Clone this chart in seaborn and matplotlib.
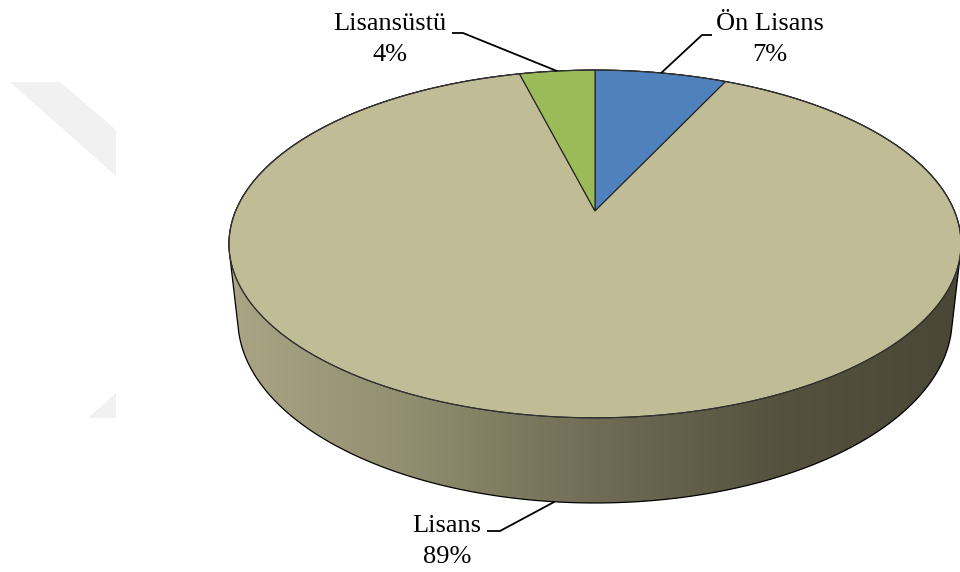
import numpy as np
import matplotlib
matplotlib.use("Agg")
import matplotlib.pyplot as plt
import seaborn as sns
from matplotlib.patches import Polygon
from matplotlib.colors import LinearSegmentedColormap

# ---- data -----------------------------------------------------------
categories = ["Ön Lisans", "Lisans", "Lisansüstü"]
percentages = [7, 89, 4]
slice_colors = ["#4F81BD", "#C0BC96", "#9BBB59"]

# label placement (name baseline position, elbow of leader, leader end)
label_pos = {"Ön Lisans": (770, 30), "Lisans": (447, 532), "Lisansüstü": (390, 30)}
leader_elbow = {"Ön Lisans": [(702, 35), (712, 35)],
                "Lisans": [(500, 531), (487, 531)],
                "Lisansüstü": [(463, 33), (452, 33)]}

# ---- style ----------------------------------------------------------
sns.set_theme(style="white")
plt.rcParams["font.family"] = ["Liberation Serif", "DejaVu Serif"]
palette = sns.color_palette(slice_colors)

fig = plt.figure(figsize=(9.6, 5.72), dpi=100)
ax = fig.add_axes([0, 0, 1, 1])
ax.set_xlim(0, 960)
ax.set_ylim(572, 0)
ax.set_aspect("auto")
ax.axis("off")

# faint background watermark shapes
for poly in ([(10, 82), (60, 82), (116, 130), (116, 176)],
             [(88, 418), (116, 393), (116, 418)]):
    ax.add_patch(Polygon(poly, closed=True, facecolor="#F1F1F1", edgecolor="none", zorder=0))

# ---- perspective camera for a tilted disc ---------------------------
CX, CY = 595, 211
PHI = np.deg2rad(27.8)
DIST = 4.664
FOCAL = 1676
THICK = 0.239


def project(u, v, h=0.0):
    s, c = np.sin(PHI), np.cos(PHI)
    yc = v * s + h * c
    zc = DIST + v * c - h * s
    return CX + FOCAL * u / zc, CY - FOCAL * yc / zc


def rim(a0, a1, h=0.0, n=200):
    """Points on the rim between two angles (radians, clockwise from far side)."""
    a = np.linspace(a0, a1, n)
    return project(np.sin(a), np.cos(a), h)


def convex_hull(points):
    pts = sorted(set(points))
    def cross(o, a, b):
        return (a[0] - o[0]) * (b[1] - o[1]) - (a[1] - o[1]) * (b[0] - o[0])
    lower, upper = [], []
    for p in pts:
        while len(lower) >= 2 and cross(lower[-2], lower[-1], p) <= 0:
            lower.pop()
        lower.append(p)
    for p in reversed(pts):
        while len(upper) >= 2 and cross(upper[-2], upper[-1], p) <= 0:
            upper.pop()
        upper.append(p)
    return lower[:-1] + upper[:-1]


# ---- side wall: hull of top and bottom rims, with a shaded gradient --
tx, ty = rim(0, 2 * np.pi, 0.0, 720)
bx, by = rim(0, 2 * np.pi, -THICK, 720)
hull = convex_hull(list(zip(np.round(tx, 3), np.round(ty, 3))) +
                   list(zip(np.round(bx, 3), np.round(by, 3))))
side_patch = Polygon(hull, closed=True, facecolor="none", edgecolor="black",
                     linewidth=0.9, zorder=3)
ax.add_patch(side_patch)

shade = LinearSegmentedColormap.from_list(
    "side", [(0.0, "#AAA585"), (0.25, "#918D6F"), (0.5, "#706C56"),
             (0.75, "#55523F"), (1.0, "#4A4737")])
xmin, xmax = min(p[0] for p in hull), max(p[0] for p in hull)
ymin, ymax = min(p[1] for p in hull), max(p[1] for p in hull)
grad = np.linspace(0, 1, 512)[None, :]
im = ax.imshow(grad, cmap=shade, extent=(xmin, xmax, ymax, ymin),
               aspect="auto", interpolation="bilinear", zorder=2)
clip = Polygon(hull, closed=True, transform=ax.transData)
im.set_clip_path(clip)

# ---- top face wedges ------------------------------------------------
fractions = np.array(percentages, dtype=float) / sum(percentages)
bounds = np.concatenate([[0], np.cumsum(fractions)]) * 2 * np.pi
for i, cat in enumerate(categories):
    a0, a1 = bounds[i], bounds[i + 1]
    px, py = rim(a0, a1, 0.0, 300)
    verts = [(CX, CY)] + list(zip(px, py))
    ax.add_patch(Polygon(verts, closed=True, facecolor=palette[i],
                         edgecolor="#222222", linewidth=0.8, zorder=4))

# outline of the top rim
ax.plot(tx, ty, color="#333333", linewidth=0.8, zorder=5)

# ---- labels with leader lines ---------------------------------------
for i, cat in enumerate(categories):
    mid = (bounds[i] + bounds[i + 1]) / 2
    u, v = np.sin(mid), np.cos(mid)
    if v < 0:
        anchor = project(u, v, -THICK)
    else:
        anchor = project(u, v, 0.0)
    path = [anchor] + leader_elbow[cat]
    ax.plot([p[0] for p in path], [p[1] for p in path], color="black",
            linewidth=1.3, zorder=6, solid_capstyle="butt")
    lx, ly = label_pos[cat]
    ax.text(lx, ly, cat, ha="center", va="baseline", fontsize=19, color="black", zorder=7)
    ax.text(lx, ly + 31, f"{percentages[i]}%", ha="center", va="baseline",
            fontsize=19, color="black", zorder=7)

fig.savefig("out.png", dpi=100)
